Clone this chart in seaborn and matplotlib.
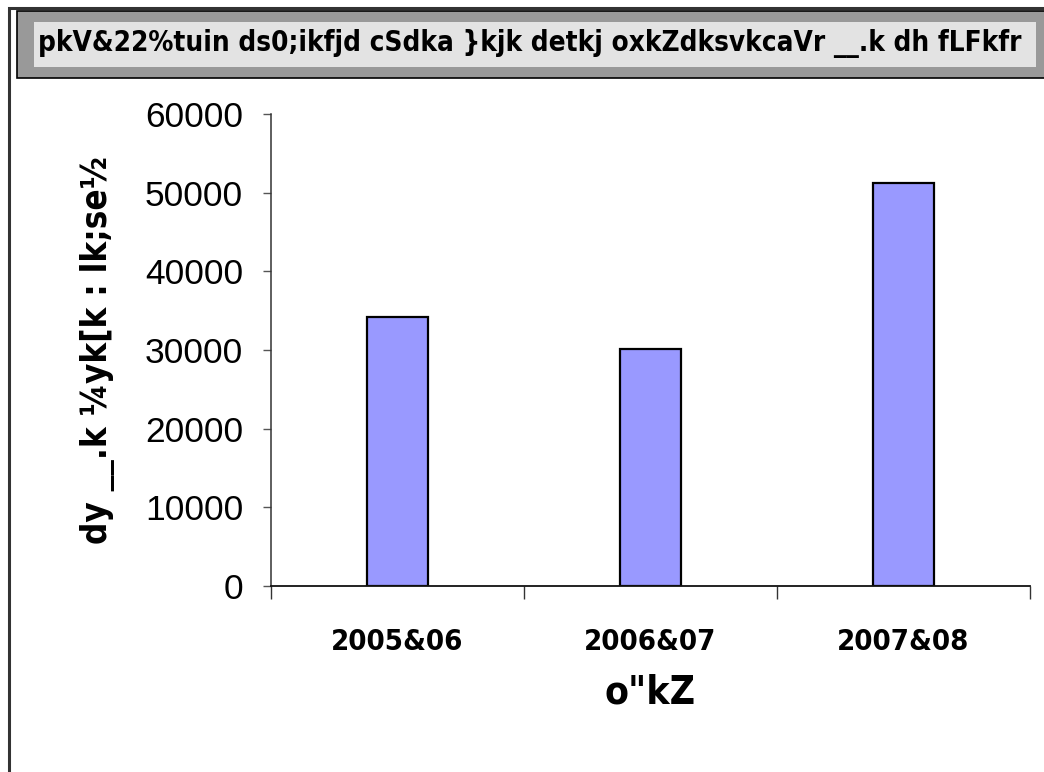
"""Bar chart: loans by commercial banks to weaker sections (Kruti Dev text)."""

import matplotlib
matplotlib.use("Agg")
import matplotlib.pyplot as plt
import matplotlib.patches as mpatches
from matplotlib.ticker import FixedLocator, NullFormatter
import pandas as pd
import seaborn as sns

# data
years = ["2005&06", "2006&07", "2007&08"]
loans = [34200, 30100, 51200]
y_ticks = [0, 10000, 20000, 30000, 40000, 50000, 60000]

title_text = "pkV&22%tuin ds0;ikfjd cSdka }kjk detkj oxkZdksvkcaVr __.k dh fLFkfr"
x_label = 'o"kZ'
y_label = "dy __.k ¼yk[k : lk;se½"

W, H = 1044, 772
NARROW = ["DejaVu Sans"]

sns.set_style("white")
plt.rcParams["font.family"] = ["Liberation Sans", "DejaVu Sans"]
plt.rcParams.update({
    "text.color": "black",
    "axes.labelcolor": "black",
    "xtick.color": "black",
    "ytick.color": "black",
})

fig = plt.figure(figsize=(W / 100, H / 100), dpi=100)


def fig_box(x0, y0, x1, y1):
    """Pixel box (top-left origin) -> figure fraction rect args."""
    return (x0 / W, 1 - y1 / H), (x1 - x0) / W, (y1 - y0) / H


# outer chart frame (only top and left edges are visible)
xy, w, h = fig_box(9, 8, 1080, 800)
fig.patches.append(mpatches.Rectangle(xy, w, h, transform=fig.transFigure,
                                      facecolor="none", edgecolor="#333333",
                                      linewidth=2.2, zorder=0))

# title box
xy, w, h = fig_box(17, 11, 1080, 78)
fig.patches.append(mpatches.Rectangle(xy, w, h, transform=fig.transFigure,
                                      facecolor="#999999", edgecolor="black",
                                      linewidth=1.2, zorder=1))
xy, w, h = fig_box(34, 22, 1036, 67)
fig.patches.append(mpatches.Rectangle(xy, w, h, transform=fig.transFigure,
                                      facecolor="#e3e3e3", edgecolor="none",
                                      zorder=2))
fig.text(530 / W, 1 - 43 / H, title_text, ha="center", va="center",
         fontsize=20, fontweight="bold", family=NARROW, fontstretch="condensed",
         zorder=3)

ax = fig.add_axes([271 / W, 1 - 586 / H, (1030 - 271) / W, (586 - 114) / H])
ax.set_facecolor("none")
ax.set_zorder(5)

df = pd.DataFrame({"year": years, "loan": loans})
sns.barplot(data=df, x="year", y="loan", color="#9999ff", saturation=1,
            edgecolor="black", linewidth=1.6, width=0.24, ax=ax)

ax.set_ylim(0, 60000)
ax.set_xlim(-0.5, len(years) - 0.5)
ax.set_yticks(y_ticks)
ax.set_yticklabels([str(t) for t in y_ticks], fontsize=25.5)

# category boundaries get the tick marks, labels sit between them
ax.xaxis.set_major_locator(FixedLocator([i - 0.5 for i in range(len(years) + 1)]))
ax.xaxis.set_major_formatter(NullFormatter())
ax.xaxis.set_minor_locator(FixedLocator(list(range(len(years)))))
ax.set_xticklabels(years, minor=True, fontsize=21, fontweight="bold",
                   family=NARROW, fontstretch="condensed")
ax.tick_params(axis="x", which="major", direction="out", length=9, width=1,
               color="#333333", bottom=True)
ax.tick_params(axis="x", which="minor", length=0, pad=30)
ax.tick_params(axis="y", direction="out", length=6, width=1, color="#555555",
               left=True, pad=14)

for side in ["top", "right"]:
    ax.spines[side].set_visible(False)
ax.spines["left"].set_color("#333333")
ax.spines["bottom"].set_color("#111111")
ax.spines["left"].set_linewidth(1.1)
ax.spines["bottom"].set_linewidth(1.3)

ax.set_xlabel(x_label, fontsize=28, fontweight="bold", family=NARROW,
              fontstretch="condensed")
ax.xaxis.set_label_coords(0.5, -0.185)
ax.set_ylabel(y_label, fontsize=25, fontweight="bold", family=NARROW,
              fontstretch="condensed")
ax.yaxis.set_label_coords(-0.205, 0.5)

fig.savefig("out.png", dpi=100)
plt.close(fig)
